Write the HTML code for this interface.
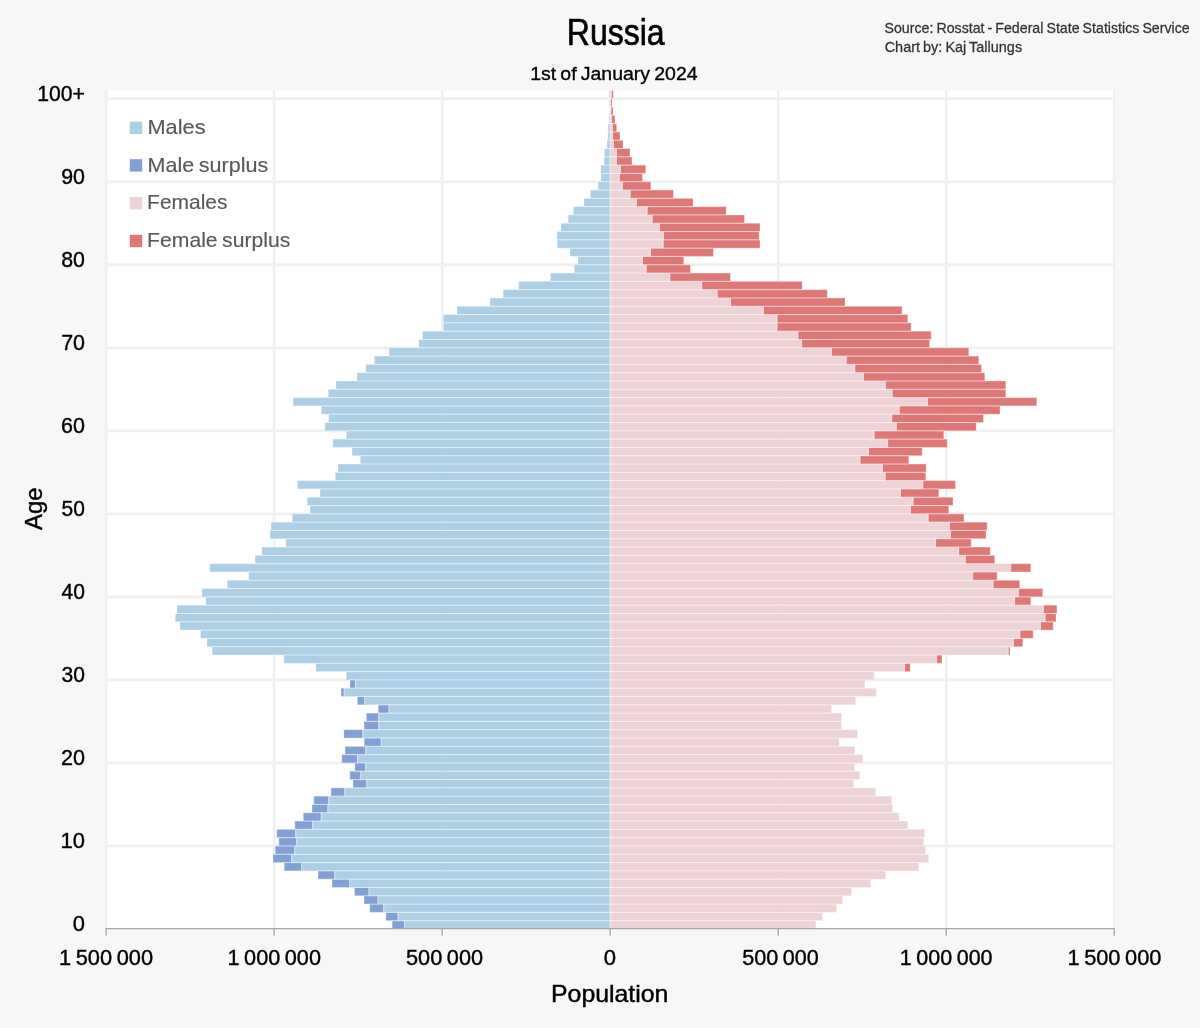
<!DOCTYPE html>
<html><head><meta charset="utf-8"><title>Russia population pyramid</title>
<style>html,body{margin:0;padding:0;background:#f7f7f7;}body{width:1200px;height:1028px;overflow:hidden;font-family:"Liberation Sans",sans-serif;}svg{display:block;will-change:transform;}text{font-family:"Liberation Sans",sans-serif;}</style>
</head><body>
<svg width="1200" height="1028" viewBox="0 0 1200 1028">
<rect x="0" y="0" width="1200" height="1028" fill="#f7f7f7"/>
<rect x="104.9" y="90.4" width="1010.6" height="838.6" fill="#ffffff"/>
<g stroke="#f0f0f0" stroke-width="2.8" fill="none">
<line x1="106.11" y1="90.4" x2="106.11" y2="929.0"/>
<line x1="274.14" y1="90.4" x2="274.14" y2="929.0"/>
<line x1="442.17" y1="90.4" x2="442.17" y2="929.0"/>
<line x1="610.20" y1="90.4" x2="610.20" y2="929.0"/>
<line x1="778.23" y1="90.4" x2="778.23" y2="929.0"/>
<line x1="946.26" y1="90.4" x2="946.26" y2="929.0"/>
<line x1="1114.29" y1="90.4" x2="1114.29" y2="929.0"/>
<line x1="104.9" y1="845.97" x2="1115.5" y2="845.97"/>
<line x1="104.9" y1="762.94" x2="1115.5" y2="762.94"/>
<line x1="104.9" y1="679.91" x2="1115.5" y2="679.91"/>
<line x1="104.9" y1="596.88" x2="1115.5" y2="596.88"/>
<line x1="104.9" y1="513.85" x2="1115.5" y2="513.85"/>
<line x1="104.9" y1="430.82" x2="1115.5" y2="430.82"/>
<line x1="104.9" y1="347.79" x2="1115.5" y2="347.79"/>
<line x1="104.9" y1="264.76" x2="1115.5" y2="264.76"/>
<line x1="104.9" y1="181.73" x2="1115.5" y2="181.73"/>
<line x1="104.9" y1="98.70" x2="1115.5" y2="98.70"/>
</g>
<g>
<rect x="404.6" y="920.70" width="205.6" height="8.30" fill="#accfe6"/>
<rect x="392.2" y="920.70" width="12.4" height="8.30" fill="#82a0d4"/>
<rect x="610.2" y="920.70" width="205.6" height="8.30" fill="#edd3d5"/>
<rect x="397.9" y="912.39" width="212.3" height="8.30" fill="#accfe6"/>
<rect x="385.8" y="912.39" width="12.1" height="8.30" fill="#82a0d4"/>
<rect x="610.2" y="912.39" width="212.3" height="8.30" fill="#edd3d5"/>
<rect x="383.7" y="904.09" width="226.5" height="8.30" fill="#accfe6"/>
<rect x="369.7" y="904.09" width="14.0" height="8.30" fill="#82a0d4"/>
<rect x="610.2" y="904.09" width="226.5" height="8.30" fill="#edd3d5"/>
<rect x="377.9" y="895.79" width="232.3" height="8.30" fill="#accfe6"/>
<rect x="364.0" y="895.79" width="13.9" height="8.30" fill="#82a0d4"/>
<rect x="610.2" y="895.79" width="232.3" height="8.30" fill="#edd3d5"/>
<rect x="368.9" y="887.49" width="241.3" height="8.30" fill="#accfe6"/>
<rect x="354.5" y="887.49" width="14.4" height="8.30" fill="#82a0d4"/>
<rect x="610.2" y="887.49" width="241.3" height="8.30" fill="#edd3d5"/>
<rect x="349.7" y="879.18" width="260.5" height="8.30" fill="#accfe6"/>
<rect x="332.0" y="879.18" width="17.7" height="8.30" fill="#82a0d4"/>
<rect x="610.2" y="879.18" width="260.5" height="8.30" fill="#edd3d5"/>
<rect x="334.7" y="870.88" width="275.5" height="8.30" fill="#accfe6"/>
<rect x="318.0" y="870.88" width="16.7" height="8.30" fill="#82a0d4"/>
<rect x="610.2" y="870.88" width="275.5" height="8.30" fill="#edd3d5"/>
<rect x="301.7" y="862.58" width="308.5" height="8.30" fill="#accfe6"/>
<rect x="284.2" y="862.58" width="17.5" height="8.30" fill="#82a0d4"/>
<rect x="610.2" y="862.58" width="308.5" height="8.30" fill="#edd3d5"/>
<rect x="291.7" y="854.27" width="318.5" height="8.30" fill="#accfe6"/>
<rect x="273.0" y="854.27" width="18.7" height="8.30" fill="#82a0d4"/>
<rect x="610.2" y="854.27" width="318.5" height="8.30" fill="#edd3d5"/>
<rect x="294.7" y="845.97" width="315.5" height="8.30" fill="#accfe6"/>
<rect x="275.2" y="845.97" width="19.5" height="8.30" fill="#82a0d4"/>
<rect x="610.2" y="845.97" width="315.5" height="8.30" fill="#edd3d5"/>
<rect x="296.7" y="837.67" width="313.5" height="8.30" fill="#accfe6"/>
<rect x="278.8" y="837.67" width="17.9" height="8.30" fill="#82a0d4"/>
<rect x="610.2" y="837.67" width="313.5" height="8.30" fill="#edd3d5"/>
<rect x="295.7" y="829.36" width="314.5" height="8.30" fill="#accfe6"/>
<rect x="276.7" y="829.36" width="19.0" height="8.30" fill="#82a0d4"/>
<rect x="610.2" y="829.36" width="314.5" height="8.30" fill="#edd3d5"/>
<rect x="312.6" y="821.06" width="297.6" height="8.30" fill="#accfe6"/>
<rect x="294.8" y="821.06" width="17.8" height="8.30" fill="#82a0d4"/>
<rect x="610.2" y="821.06" width="297.6" height="8.30" fill="#edd3d5"/>
<rect x="321.2" y="812.76" width="289.0" height="8.30" fill="#accfe6"/>
<rect x="303.3" y="812.76" width="17.9" height="8.30" fill="#82a0d4"/>
<rect x="610.2" y="812.76" width="289.0" height="8.30" fill="#edd3d5"/>
<rect x="327.8" y="804.45" width="282.4" height="8.30" fill="#accfe6"/>
<rect x="312.0" y="804.45" width="15.8" height="8.30" fill="#82a0d4"/>
<rect x="610.2" y="804.45" width="282.4" height="8.30" fill="#edd3d5"/>
<rect x="328.7" y="796.15" width="281.5" height="8.30" fill="#accfe6"/>
<rect x="313.8" y="796.15" width="14.9" height="8.30" fill="#82a0d4"/>
<rect x="610.2" y="796.15" width="281.5" height="8.30" fill="#edd3d5"/>
<rect x="344.7" y="787.85" width="265.5" height="8.30" fill="#accfe6"/>
<rect x="331.0" y="787.85" width="13.7" height="8.30" fill="#82a0d4"/>
<rect x="610.2" y="787.85" width="265.5" height="8.30" fill="#edd3d5"/>
<rect x="366.7" y="779.55" width="243.5" height="8.30" fill="#accfe6"/>
<rect x="353.0" y="779.55" width="13.7" height="8.30" fill="#82a0d4"/>
<rect x="610.2" y="779.55" width="243.5" height="8.30" fill="#edd3d5"/>
<rect x="360.7" y="771.24" width="249.5" height="8.30" fill="#accfe6"/>
<rect x="349.8" y="771.24" width="10.9" height="8.30" fill="#82a0d4"/>
<rect x="610.2" y="771.24" width="249.5" height="8.30" fill="#edd3d5"/>
<rect x="365.7" y="762.94" width="244.5" height="8.30" fill="#accfe6"/>
<rect x="354.8" y="762.94" width="10.9" height="8.30" fill="#82a0d4"/>
<rect x="610.2" y="762.94" width="244.5" height="8.30" fill="#edd3d5"/>
<rect x="357.6" y="754.64" width="252.6" height="8.30" fill="#accfe6"/>
<rect x="341.8" y="754.64" width="15.8" height="8.30" fill="#82a0d4"/>
<rect x="610.2" y="754.64" width="252.6" height="8.30" fill="#edd3d5"/>
<rect x="365.7" y="746.33" width="244.5" height="8.30" fill="#accfe6"/>
<rect x="345.0" y="746.33" width="20.7" height="8.30" fill="#82a0d4"/>
<rect x="610.2" y="746.33" width="244.5" height="8.30" fill="#edd3d5"/>
<rect x="381.2" y="738.03" width="229.0" height="8.30" fill="#accfe6"/>
<rect x="364.2" y="738.03" width="17.0" height="8.30" fill="#82a0d4"/>
<rect x="610.2" y="738.03" width="229.0" height="8.30" fill="#edd3d5"/>
<rect x="362.7" y="729.73" width="247.5" height="8.30" fill="#accfe6"/>
<rect x="343.8" y="729.73" width="18.9" height="8.30" fill="#82a0d4"/>
<rect x="610.2" y="729.73" width="247.5" height="8.30" fill="#edd3d5"/>
<rect x="378.7" y="721.42" width="231.5" height="8.30" fill="#accfe6"/>
<rect x="364.0" y="721.42" width="14.7" height="8.30" fill="#82a0d4"/>
<rect x="610.2" y="721.42" width="231.5" height="8.30" fill="#edd3d5"/>
<rect x="378.7" y="713.12" width="231.5" height="8.30" fill="#accfe6"/>
<rect x="366.3" y="713.12" width="12.4" height="8.30" fill="#82a0d4"/>
<rect x="610.2" y="713.12" width="231.5" height="8.30" fill="#edd3d5"/>
<rect x="388.9" y="704.82" width="221.3" height="8.30" fill="#accfe6"/>
<rect x="378.2" y="704.82" width="10.7" height="8.30" fill="#82a0d4"/>
<rect x="610.2" y="704.82" width="221.3" height="8.30" fill="#edd3d5"/>
<rect x="364.7" y="696.52" width="245.5" height="8.30" fill="#accfe6"/>
<rect x="357.3" y="696.52" width="7.4" height="8.30" fill="#82a0d4"/>
<rect x="610.2" y="696.52" width="245.5" height="8.30" fill="#edd3d5"/>
<rect x="344.1" y="688.21" width="266.1" height="8.30" fill="#accfe6"/>
<rect x="341.0" y="688.21" width="3.1" height="8.30" fill="#82a0d4"/>
<rect x="610.2" y="688.21" width="266.1" height="8.30" fill="#edd3d5"/>
<rect x="355.4" y="679.91" width="254.8" height="8.30" fill="#accfe6"/>
<rect x="350.0" y="679.91" width="5.4" height="8.30" fill="#82a0d4"/>
<rect x="610.2" y="679.91" width="254.8" height="8.30" fill="#edd3d5"/>
<rect x="346.2" y="671.61" width="264.0" height="8.30" fill="#accfe6"/>
<rect x="610.2" y="671.61" width="264.0" height="8.30" fill="#edd3d5"/>
<rect x="315.8" y="663.30" width="294.4" height="8.30" fill="#accfe6"/>
<rect x="610.2" y="663.30" width="294.4" height="8.30" fill="#edd3d5"/>
<rect x="904.6" y="663.30" width="5.6" height="8.30" fill="#de7877"/>
<rect x="283.8" y="655.00" width="326.4" height="8.30" fill="#accfe6"/>
<rect x="610.2" y="655.00" width="326.4" height="8.30" fill="#edd3d5"/>
<rect x="936.6" y="655.00" width="5.4" height="8.30" fill="#de7877"/>
<rect x="212.2" y="646.70" width="398.0" height="8.30" fill="#accfe6"/>
<rect x="610.2" y="646.70" width="398.0" height="8.30" fill="#edd3d5"/>
<rect x="1008.2" y="646.70" width="1.8" height="8.30" fill="#de7877"/>
<rect x="207.0" y="638.39" width="403.2" height="8.30" fill="#accfe6"/>
<rect x="610.2" y="638.39" width="403.2" height="8.30" fill="#edd3d5"/>
<rect x="1013.4" y="638.39" width="9.4" height="8.30" fill="#de7877"/>
<rect x="200.5" y="630.09" width="409.7" height="8.30" fill="#accfe6"/>
<rect x="610.2" y="630.09" width="409.7" height="8.30" fill="#edd3d5"/>
<rect x="1019.9" y="630.09" width="13.3" height="8.30" fill="#de7877"/>
<rect x="180.0" y="621.79" width="430.2" height="8.30" fill="#accfe6"/>
<rect x="610.2" y="621.79" width="430.2" height="8.30" fill="#edd3d5"/>
<rect x="1040.4" y="621.79" width="12.8" height="8.30" fill="#de7877"/>
<rect x="175.3" y="613.49" width="434.9" height="8.30" fill="#accfe6"/>
<rect x="610.2" y="613.49" width="434.9" height="8.30" fill="#edd3d5"/>
<rect x="1045.1" y="613.49" width="10.9" height="8.30" fill="#de7877"/>
<rect x="177.0" y="605.18" width="433.2" height="8.30" fill="#accfe6"/>
<rect x="610.2" y="605.18" width="433.2" height="8.30" fill="#edd3d5"/>
<rect x="1043.4" y="605.18" width="13.6" height="8.30" fill="#de7877"/>
<rect x="205.8" y="596.88" width="404.4" height="8.30" fill="#accfe6"/>
<rect x="610.2" y="596.88" width="404.4" height="8.30" fill="#edd3d5"/>
<rect x="1014.6" y="596.88" width="16.2" height="8.30" fill="#de7877"/>
<rect x="202.0" y="588.58" width="408.2" height="8.30" fill="#accfe6"/>
<rect x="610.2" y="588.58" width="408.2" height="8.30" fill="#edd3d5"/>
<rect x="1018.4" y="588.58" width="24.3" height="8.30" fill="#de7877"/>
<rect x="227.2" y="580.27" width="383.0" height="8.30" fill="#accfe6"/>
<rect x="610.2" y="580.27" width="383.0" height="8.30" fill="#edd3d5"/>
<rect x="993.2" y="580.27" width="26.5" height="8.30" fill="#de7877"/>
<rect x="248.7" y="571.97" width="361.5" height="8.30" fill="#accfe6"/>
<rect x="610.2" y="571.97" width="362.4" height="8.30" fill="#edd3d5"/>
<rect x="972.6" y="571.97" width="24.6" height="8.30" fill="#de7877"/>
<rect x="209.8" y="563.67" width="400.4" height="8.30" fill="#accfe6"/>
<rect x="610.2" y="563.67" width="400.4" height="8.30" fill="#edd3d5"/>
<rect x="1010.6" y="563.67" width="20.2" height="8.30" fill="#de7877"/>
<rect x="255.0" y="555.37" width="355.2" height="8.30" fill="#accfe6"/>
<rect x="610.2" y="555.37" width="355.2" height="8.30" fill="#edd3d5"/>
<rect x="965.4" y="555.37" width="29.3" height="8.30" fill="#de7877"/>
<rect x="261.8" y="547.06" width="348.4" height="8.30" fill="#accfe6"/>
<rect x="610.2" y="547.06" width="348.4" height="8.30" fill="#edd3d5"/>
<rect x="958.6" y="547.06" width="31.6" height="8.30" fill="#de7877"/>
<rect x="285.7" y="538.76" width="324.5" height="8.30" fill="#accfe6"/>
<rect x="610.2" y="538.76" width="325.4" height="8.30" fill="#edd3d5"/>
<rect x="935.6" y="538.76" width="35.6" height="8.30" fill="#de7877"/>
<rect x="270.0" y="530.46" width="340.2" height="8.30" fill="#accfe6"/>
<rect x="610.2" y="530.46" width="340.2" height="8.30" fill="#edd3d5"/>
<rect x="950.4" y="530.46" width="35.6" height="8.30" fill="#de7877"/>
<rect x="271.0" y="522.15" width="339.2" height="8.30" fill="#accfe6"/>
<rect x="610.2" y="522.15" width="339.2" height="8.30" fill="#edd3d5"/>
<rect x="949.4" y="522.15" width="37.8" height="8.30" fill="#de7877"/>
<rect x="292.2" y="513.85" width="318.0" height="8.30" fill="#accfe6"/>
<rect x="610.2" y="513.85" width="318.0" height="8.30" fill="#edd3d5"/>
<rect x="928.2" y="513.85" width="35.8" height="8.30" fill="#de7877"/>
<rect x="310.0" y="505.55" width="300.2" height="8.30" fill="#accfe6"/>
<rect x="610.2" y="505.55" width="300.2" height="8.30" fill="#edd3d5"/>
<rect x="910.4" y="505.55" width="38.4" height="8.30" fill="#de7877"/>
<rect x="307.2" y="497.24" width="303.0" height="8.30" fill="#accfe6"/>
<rect x="610.2" y="497.24" width="303.0" height="8.30" fill="#edd3d5"/>
<rect x="913.2" y="497.24" width="39.8" height="8.30" fill="#de7877"/>
<rect x="320.0" y="488.94" width="290.2" height="8.30" fill="#accfe6"/>
<rect x="610.2" y="488.94" width="290.2" height="8.30" fill="#edd3d5"/>
<rect x="900.4" y="488.94" width="38.4" height="8.30" fill="#de7877"/>
<rect x="297.5" y="480.64" width="312.7" height="8.30" fill="#accfe6"/>
<rect x="610.2" y="480.64" width="312.7" height="8.30" fill="#edd3d5"/>
<rect x="922.9" y="480.64" width="32.6" height="8.30" fill="#de7877"/>
<rect x="335.2" y="472.33" width="275.0" height="8.30" fill="#accfe6"/>
<rect x="610.2" y="472.33" width="275.0" height="8.30" fill="#edd3d5"/>
<rect x="885.2" y="472.33" width="40.6" height="8.30" fill="#de7877"/>
<rect x="338.0" y="464.03" width="272.2" height="8.30" fill="#accfe6"/>
<rect x="610.2" y="464.03" width="272.2" height="8.30" fill="#edd3d5"/>
<rect x="882.4" y="464.03" width="43.8" height="8.30" fill="#de7877"/>
<rect x="360.3" y="455.73" width="249.9" height="8.30" fill="#accfe6"/>
<rect x="610.2" y="455.73" width="249.9" height="8.30" fill="#edd3d5"/>
<rect x="860.1" y="455.73" width="48.7" height="8.30" fill="#de7877"/>
<rect x="352.0" y="447.43" width="258.2" height="8.30" fill="#accfe6"/>
<rect x="610.2" y="447.43" width="258.2" height="8.30" fill="#edd3d5"/>
<rect x="868.4" y="447.43" width="53.8" height="8.30" fill="#de7877"/>
<rect x="332.8" y="439.12" width="277.4" height="8.30" fill="#accfe6"/>
<rect x="610.2" y="439.12" width="277.4" height="8.30" fill="#edd3d5"/>
<rect x="887.6" y="439.12" width="59.6" height="8.30" fill="#de7877"/>
<rect x="346.3" y="430.82" width="263.9" height="8.30" fill="#accfe6"/>
<rect x="610.2" y="430.82" width="263.9" height="8.30" fill="#edd3d5"/>
<rect x="874.1" y="430.82" width="69.7" height="8.30" fill="#de7877"/>
<rect x="324.8" y="422.52" width="285.4" height="8.30" fill="#accfe6"/>
<rect x="610.2" y="422.52" width="286.2" height="8.30" fill="#edd3d5"/>
<rect x="896.4" y="422.52" width="79.8" height="8.30" fill="#de7877"/>
<rect x="328.7" y="414.21" width="281.5" height="8.30" fill="#accfe6"/>
<rect x="610.2" y="414.21" width="281.5" height="8.30" fill="#edd3d5"/>
<rect x="891.7" y="414.21" width="91.8" height="8.30" fill="#de7877"/>
<rect x="321.2" y="405.91" width="289.0" height="8.30" fill="#accfe6"/>
<rect x="610.2" y="405.91" width="289.0" height="8.30" fill="#edd3d5"/>
<rect x="899.2" y="405.91" width="100.8" height="8.30" fill="#de7877"/>
<rect x="293.0" y="397.61" width="317.2" height="8.30" fill="#accfe6"/>
<rect x="610.2" y="397.61" width="317.2" height="8.30" fill="#edd3d5"/>
<rect x="927.4" y="397.61" width="109.4" height="8.30" fill="#de7877"/>
<rect x="328.2" y="389.30" width="282.0" height="8.30" fill="#accfe6"/>
<rect x="610.2" y="389.30" width="282.0" height="8.30" fill="#edd3d5"/>
<rect x="892.2" y="389.30" width="113.6" height="8.30" fill="#de7877"/>
<rect x="336.0" y="381.00" width="274.2" height="8.30" fill="#accfe6"/>
<rect x="610.2" y="381.00" width="275.2" height="8.30" fill="#edd3d5"/>
<rect x="885.4" y="381.00" width="120.4" height="8.30" fill="#de7877"/>
<rect x="357.0" y="372.70" width="253.2" height="8.30" fill="#accfe6"/>
<rect x="610.2" y="372.70" width="253.2" height="8.30" fill="#edd3d5"/>
<rect x="863.4" y="372.70" width="121.4" height="8.30" fill="#de7877"/>
<rect x="365.7" y="364.40" width="244.5" height="8.30" fill="#accfe6"/>
<rect x="610.2" y="364.40" width="244.5" height="8.30" fill="#edd3d5"/>
<rect x="854.7" y="364.40" width="126.8" height="8.30" fill="#de7877"/>
<rect x="374.2" y="356.09" width="236.0" height="8.30" fill="#accfe6"/>
<rect x="610.2" y="356.09" width="236.0" height="8.30" fill="#edd3d5"/>
<rect x="846.2" y="356.09" width="132.6" height="8.30" fill="#de7877"/>
<rect x="389.0" y="347.79" width="221.2" height="8.30" fill="#accfe6"/>
<rect x="610.2" y="347.79" width="221.2" height="8.30" fill="#edd3d5"/>
<rect x="831.4" y="347.79" width="137.4" height="8.30" fill="#de7877"/>
<rect x="418.8" y="339.49" width="191.4" height="8.30" fill="#accfe6"/>
<rect x="610.2" y="339.49" width="191.4" height="8.30" fill="#edd3d5"/>
<rect x="801.6" y="339.49" width="128.0" height="8.30" fill="#de7877"/>
<rect x="422.5" y="331.18" width="187.7" height="8.30" fill="#accfe6"/>
<rect x="610.2" y="331.18" width="187.7" height="8.30" fill="#edd3d5"/>
<rect x="797.9" y="331.18" width="133.3" height="8.30" fill="#de7877"/>
<rect x="443.3" y="322.88" width="166.9" height="8.30" fill="#accfe6"/>
<rect x="610.2" y="322.88" width="166.9" height="8.30" fill="#edd3d5"/>
<rect x="777.1" y="322.88" width="134.0" height="8.30" fill="#de7877"/>
<rect x="443.3" y="314.58" width="166.9" height="8.30" fill="#accfe6"/>
<rect x="610.2" y="314.58" width="166.9" height="8.30" fill="#edd3d5"/>
<rect x="777.1" y="314.58" width="130.7" height="8.30" fill="#de7877"/>
<rect x="457.0" y="306.27" width="153.2" height="8.30" fill="#accfe6"/>
<rect x="610.2" y="306.27" width="153.2" height="8.30" fill="#edd3d5"/>
<rect x="763.4" y="306.27" width="138.6" height="8.30" fill="#de7877"/>
<rect x="490.0" y="297.97" width="120.2" height="8.30" fill="#accfe6"/>
<rect x="610.2" y="297.97" width="120.2" height="8.30" fill="#edd3d5"/>
<rect x="730.4" y="297.97" width="114.6" height="8.30" fill="#de7877"/>
<rect x="503.2" y="289.67" width="107.0" height="8.30" fill="#accfe6"/>
<rect x="610.2" y="289.67" width="107.0" height="8.30" fill="#edd3d5"/>
<rect x="717.2" y="289.67" width="110.1" height="8.30" fill="#de7877"/>
<rect x="518.7" y="281.37" width="91.5" height="8.30" fill="#accfe6"/>
<rect x="610.2" y="281.37" width="91.5" height="8.30" fill="#edd3d5"/>
<rect x="701.7" y="281.37" width="100.5" height="8.30" fill="#de7877"/>
<rect x="550.5" y="273.06" width="59.7" height="8.30" fill="#accfe6"/>
<rect x="610.2" y="273.06" width="59.7" height="8.30" fill="#edd3d5"/>
<rect x="669.9" y="273.06" width="60.6" height="8.30" fill="#de7877"/>
<rect x="574.2" y="264.76" width="36.0" height="8.30" fill="#accfe6"/>
<rect x="610.2" y="264.76" width="36.0" height="8.30" fill="#edd3d5"/>
<rect x="646.2" y="264.76" width="44.3" height="8.30" fill="#de7877"/>
<rect x="578.0" y="256.46" width="32.2" height="8.30" fill="#accfe6"/>
<rect x="610.2" y="256.46" width="32.2" height="8.30" fill="#edd3d5"/>
<rect x="642.4" y="256.46" width="41.4" height="8.30" fill="#de7877"/>
<rect x="570.0" y="248.15" width="40.2" height="8.30" fill="#accfe6"/>
<rect x="610.2" y="248.15" width="40.2" height="8.30" fill="#edd3d5"/>
<rect x="650.4" y="248.15" width="63.1" height="8.30" fill="#de7877"/>
<rect x="557.2" y="239.85" width="53.0" height="8.30" fill="#accfe6"/>
<rect x="610.2" y="239.85" width="53.0" height="8.30" fill="#edd3d5"/>
<rect x="663.2" y="239.85" width="96.8" height="8.30" fill="#de7877"/>
<rect x="557.0" y="231.55" width="53.2" height="8.30" fill="#accfe6"/>
<rect x="610.2" y="231.55" width="53.2" height="8.30" fill="#edd3d5"/>
<rect x="663.4" y="231.55" width="95.8" height="8.30" fill="#de7877"/>
<rect x="561.0" y="223.24" width="49.2" height="8.30" fill="#accfe6"/>
<rect x="610.2" y="223.24" width="49.2" height="8.30" fill="#edd3d5"/>
<rect x="659.4" y="223.24" width="100.6" height="8.30" fill="#de7877"/>
<rect x="568.2" y="214.94" width="42.0" height="8.30" fill="#accfe6"/>
<rect x="610.2" y="214.94" width="42.0" height="8.30" fill="#edd3d5"/>
<rect x="652.2" y="214.94" width="92.3" height="8.30" fill="#de7877"/>
<rect x="573.3" y="206.64" width="36.9" height="8.30" fill="#accfe6"/>
<rect x="610.2" y="206.64" width="36.9" height="8.30" fill="#edd3d5"/>
<rect x="647.1" y="206.64" width="79.1" height="8.30" fill="#de7877"/>
<rect x="584.0" y="198.34" width="26.2" height="8.30" fill="#accfe6"/>
<rect x="610.2" y="198.34" width="26.2" height="8.30" fill="#edd3d5"/>
<rect x="636.4" y="198.34" width="56.6" height="8.30" fill="#de7877"/>
<rect x="590.3" y="190.03" width="19.9" height="8.30" fill="#accfe6"/>
<rect x="610.2" y="190.03" width="19.9" height="8.30" fill="#edd3d5"/>
<rect x="630.1" y="190.03" width="43.4" height="8.30" fill="#de7877"/>
<rect x="598.0" y="181.73" width="12.2" height="8.30" fill="#accfe6"/>
<rect x="610.2" y="181.73" width="12.2" height="8.30" fill="#edd3d5"/>
<rect x="622.4" y="181.73" width="28.5" height="8.30" fill="#de7877"/>
<rect x="601.0" y="173.43" width="9.2" height="8.30" fill="#accfe6"/>
<rect x="610.2" y="173.43" width="9.2" height="8.30" fill="#edd3d5"/>
<rect x="619.4" y="173.43" width="23.1" height="8.30" fill="#de7877"/>
<rect x="600.8" y="165.12" width="9.4" height="8.30" fill="#accfe6"/>
<rect x="610.2" y="165.12" width="10.2" height="8.30" fill="#edd3d5"/>
<rect x="620.4" y="165.12" width="25.3" height="8.30" fill="#de7877"/>
<rect x="604.0" y="156.82" width="6.2" height="8.30" fill="#accfe6"/>
<rect x="610.2" y="156.82" width="6.2" height="8.30" fill="#edd3d5"/>
<rect x="616.4" y="156.82" width="15.6" height="8.30" fill="#de7877"/>
<rect x="604.5" y="148.52" width="5.7" height="8.30" fill="#accfe6"/>
<rect x="610.2" y="148.52" width="6.3" height="8.30" fill="#edd3d5"/>
<rect x="616.5" y="148.52" width="13.5" height="8.30" fill="#de7877"/>
<rect x="607.0" y="140.21" width="3.2" height="8.30" fill="#accfe6"/>
<rect x="610.2" y="140.21" width="3.2" height="8.30" fill="#edd3d5"/>
<rect x="613.4" y="140.21" width="9.6" height="8.30" fill="#de7877"/>
<rect x="607.8" y="131.91" width="2.4" height="8.30" fill="#accfe6"/>
<rect x="610.2" y="131.91" width="2.4" height="8.30" fill="#edd3d5"/>
<rect x="612.6" y="131.91" width="7.4" height="8.30" fill="#de7877"/>
<rect x="608.0" y="123.61" width="2.2" height="8.30" fill="#accfe6"/>
<rect x="610.2" y="123.61" width="2.2" height="8.30" fill="#edd3d5"/>
<rect x="612.4" y="123.61" width="4.3" height="8.30" fill="#de7877"/>
<rect x="609.0" y="115.31" width="1.2" height="8.30" fill="#accfe6"/>
<rect x="610.2" y="115.31" width="1.2" height="8.30" fill="#edd3d5"/>
<rect x="611.4" y="115.31" width="3.5" height="8.30" fill="#de7877"/>
<rect x="609.6" y="107.00" width="0.6" height="8.30" fill="#accfe6"/>
<rect x="610.2" y="107.00" width="0.6" height="8.30" fill="#edd3d5"/>
<rect x="610.8" y="107.00" width="2.2" height="8.30" fill="#de7877"/>
<rect x="609.9" y="98.70" width="0.3" height="8.30" fill="#accfe6"/>
<rect x="610.2" y="98.70" width="0.3" height="8.30" fill="#edd3d5"/>
<rect x="610.5" y="98.70" width="1.5" height="8.30" fill="#de7877"/>
<rect x="609.0" y="90.40" width="1.2" height="8.30" fill="#accfe6"/>
<rect x="610.2" y="90.40" width="1.2" height="8.30" fill="#edd3d5"/>
<rect x="611.4" y="90.40" width="1.9" height="8.30" fill="#de7877"/>
</g>
<g fill="none" stroke="#ffffff" stroke-width="1.1" stroke-opacity="0.3">
<rect x="404.6" y="920.70" width="205.6" height="8.30"/>
<rect x="392.2" y="920.70" width="12.4" height="8.30"/>
<rect x="610.2" y="920.70" width="205.6" height="8.30"/>
<rect x="397.9" y="912.39" width="212.3" height="8.30"/>
<rect x="385.8" y="912.39" width="12.1" height="8.30"/>
<rect x="610.2" y="912.39" width="212.3" height="8.30"/>
<rect x="383.7" y="904.09" width="226.5" height="8.30"/>
<rect x="369.7" y="904.09" width="14.0" height="8.30"/>
<rect x="610.2" y="904.09" width="226.5" height="8.30"/>
<rect x="377.9" y="895.79" width="232.3" height="8.30"/>
<rect x="364.0" y="895.79" width="13.9" height="8.30"/>
<rect x="610.2" y="895.79" width="232.3" height="8.30"/>
<rect x="368.9" y="887.49" width="241.3" height="8.30"/>
<rect x="354.5" y="887.49" width="14.4" height="8.30"/>
<rect x="610.2" y="887.49" width="241.3" height="8.30"/>
<rect x="349.7" y="879.18" width="260.5" height="8.30"/>
<rect x="332.0" y="879.18" width="17.7" height="8.30"/>
<rect x="610.2" y="879.18" width="260.5" height="8.30"/>
<rect x="334.7" y="870.88" width="275.5" height="8.30"/>
<rect x="318.0" y="870.88" width="16.7" height="8.30"/>
<rect x="610.2" y="870.88" width="275.5" height="8.30"/>
<rect x="301.7" y="862.58" width="308.5" height="8.30"/>
<rect x="284.2" y="862.58" width="17.5" height="8.30"/>
<rect x="610.2" y="862.58" width="308.5" height="8.30"/>
<rect x="291.7" y="854.27" width="318.5" height="8.30"/>
<rect x="273.0" y="854.27" width="18.7" height="8.30"/>
<rect x="610.2" y="854.27" width="318.5" height="8.30"/>
<rect x="294.7" y="845.97" width="315.5" height="8.30"/>
<rect x="275.2" y="845.97" width="19.5" height="8.30"/>
<rect x="610.2" y="845.97" width="315.5" height="8.30"/>
<rect x="296.7" y="837.67" width="313.5" height="8.30"/>
<rect x="278.8" y="837.67" width="17.9" height="8.30"/>
<rect x="610.2" y="837.67" width="313.5" height="8.30"/>
<rect x="295.7" y="829.36" width="314.5" height="8.30"/>
<rect x="276.7" y="829.36" width="19.0" height="8.30"/>
<rect x="610.2" y="829.36" width="314.5" height="8.30"/>
<rect x="312.6" y="821.06" width="297.6" height="8.30"/>
<rect x="294.8" y="821.06" width="17.8" height="8.30"/>
<rect x="610.2" y="821.06" width="297.6" height="8.30"/>
<rect x="321.2" y="812.76" width="289.0" height="8.30"/>
<rect x="303.3" y="812.76" width="17.9" height="8.30"/>
<rect x="610.2" y="812.76" width="289.0" height="8.30"/>
<rect x="327.8" y="804.45" width="282.4" height="8.30"/>
<rect x="312.0" y="804.45" width="15.8" height="8.30"/>
<rect x="610.2" y="804.45" width="282.4" height="8.30"/>
<rect x="328.7" y="796.15" width="281.5" height="8.30"/>
<rect x="313.8" y="796.15" width="14.9" height="8.30"/>
<rect x="610.2" y="796.15" width="281.5" height="8.30"/>
<rect x="344.7" y="787.85" width="265.5" height="8.30"/>
<rect x="331.0" y="787.85" width="13.7" height="8.30"/>
<rect x="610.2" y="787.85" width="265.5" height="8.30"/>
<rect x="366.7" y="779.55" width="243.5" height="8.30"/>
<rect x="353.0" y="779.55" width="13.7" height="8.30"/>
<rect x="610.2" y="779.55" width="243.5" height="8.30"/>
<rect x="360.7" y="771.24" width="249.5" height="8.30"/>
<rect x="349.8" y="771.24" width="10.9" height="8.30"/>
<rect x="610.2" y="771.24" width="249.5" height="8.30"/>
<rect x="365.7" y="762.94" width="244.5" height="8.30"/>
<rect x="354.8" y="762.94" width="10.9" height="8.30"/>
<rect x="610.2" y="762.94" width="244.5" height="8.30"/>
<rect x="357.6" y="754.64" width="252.6" height="8.30"/>
<rect x="341.8" y="754.64" width="15.8" height="8.30"/>
<rect x="610.2" y="754.64" width="252.6" height="8.30"/>
<rect x="365.7" y="746.33" width="244.5" height="8.30"/>
<rect x="345.0" y="746.33" width="20.7" height="8.30"/>
<rect x="610.2" y="746.33" width="244.5" height="8.30"/>
<rect x="381.2" y="738.03" width="229.0" height="8.30"/>
<rect x="364.2" y="738.03" width="17.0" height="8.30"/>
<rect x="610.2" y="738.03" width="229.0" height="8.30"/>
<rect x="362.7" y="729.73" width="247.5" height="8.30"/>
<rect x="343.8" y="729.73" width="18.9" height="8.30"/>
<rect x="610.2" y="729.73" width="247.5" height="8.30"/>
<rect x="378.7" y="721.42" width="231.5" height="8.30"/>
<rect x="364.0" y="721.42" width="14.7" height="8.30"/>
<rect x="610.2" y="721.42" width="231.5" height="8.30"/>
<rect x="378.7" y="713.12" width="231.5" height="8.30"/>
<rect x="366.3" y="713.12" width="12.4" height="8.30"/>
<rect x="610.2" y="713.12" width="231.5" height="8.30"/>
<rect x="388.9" y="704.82" width="221.3" height="8.30"/>
<rect x="378.2" y="704.82" width="10.7" height="8.30"/>
<rect x="610.2" y="704.82" width="221.3" height="8.30"/>
<rect x="364.7" y="696.52" width="245.5" height="8.30"/>
<rect x="357.3" y="696.52" width="7.4" height="8.30"/>
<rect x="610.2" y="696.52" width="245.5" height="8.30"/>
<rect x="344.1" y="688.21" width="266.1" height="8.30"/>
<rect x="341.0" y="688.21" width="3.1" height="8.30"/>
<rect x="610.2" y="688.21" width="266.1" height="8.30"/>
<rect x="355.4" y="679.91" width="254.8" height="8.30"/>
<rect x="350.0" y="679.91" width="5.4" height="8.30"/>
<rect x="610.2" y="679.91" width="254.8" height="8.30"/>
<rect x="346.2" y="671.61" width="264.0" height="8.30"/>
<rect x="610.2" y="671.61" width="264.0" height="8.30"/>
<rect x="315.8" y="663.30" width="294.4" height="8.30"/>
<rect x="610.2" y="663.30" width="294.4" height="8.30"/>
<rect x="904.6" y="663.30" width="5.6" height="8.30"/>
<rect x="283.8" y="655.00" width="326.4" height="8.30"/>
<rect x="610.2" y="655.00" width="326.4" height="8.30"/>
<rect x="936.6" y="655.00" width="5.4" height="8.30"/>
<rect x="212.2" y="646.70" width="398.0" height="8.30"/>
<rect x="610.2" y="646.70" width="398.0" height="8.30"/>
<rect x="1008.2" y="646.70" width="1.8" height="8.30"/>
<rect x="207.0" y="638.39" width="403.2" height="8.30"/>
<rect x="610.2" y="638.39" width="403.2" height="8.30"/>
<rect x="1013.4" y="638.39" width="9.4" height="8.30"/>
<rect x="200.5" y="630.09" width="409.7" height="8.30"/>
<rect x="610.2" y="630.09" width="409.7" height="8.30"/>
<rect x="1019.9" y="630.09" width="13.3" height="8.30"/>
<rect x="180.0" y="621.79" width="430.2" height="8.30"/>
<rect x="610.2" y="621.79" width="430.2" height="8.30"/>
<rect x="1040.4" y="621.79" width="12.8" height="8.30"/>
<rect x="175.3" y="613.49" width="434.9" height="8.30"/>
<rect x="610.2" y="613.49" width="434.9" height="8.30"/>
<rect x="1045.1" y="613.49" width="10.9" height="8.30"/>
<rect x="177.0" y="605.18" width="433.2" height="8.30"/>
<rect x="610.2" y="605.18" width="433.2" height="8.30"/>
<rect x="1043.4" y="605.18" width="13.6" height="8.30"/>
<rect x="205.8" y="596.88" width="404.4" height="8.30"/>
<rect x="610.2" y="596.88" width="404.4" height="8.30"/>
<rect x="1014.6" y="596.88" width="16.2" height="8.30"/>
<rect x="202.0" y="588.58" width="408.2" height="8.30"/>
<rect x="610.2" y="588.58" width="408.2" height="8.30"/>
<rect x="1018.4" y="588.58" width="24.3" height="8.30"/>
<rect x="227.2" y="580.27" width="383.0" height="8.30"/>
<rect x="610.2" y="580.27" width="383.0" height="8.30"/>
<rect x="993.2" y="580.27" width="26.5" height="8.30"/>
<rect x="248.7" y="571.97" width="361.5" height="8.30"/>
<rect x="610.2" y="571.97" width="362.4" height="8.30"/>
<rect x="972.6" y="571.97" width="24.6" height="8.30"/>
<rect x="209.8" y="563.67" width="400.4" height="8.30"/>
<rect x="610.2" y="563.67" width="400.4" height="8.30"/>
<rect x="1010.6" y="563.67" width="20.2" height="8.30"/>
<rect x="255.0" y="555.37" width="355.2" height="8.30"/>
<rect x="610.2" y="555.37" width="355.2" height="8.30"/>
<rect x="965.4" y="555.37" width="29.3" height="8.30"/>
<rect x="261.8" y="547.06" width="348.4" height="8.30"/>
<rect x="610.2" y="547.06" width="348.4" height="8.30"/>
<rect x="958.6" y="547.06" width="31.6" height="8.30"/>
<rect x="285.7" y="538.76" width="324.5" height="8.30"/>
<rect x="610.2" y="538.76" width="325.4" height="8.30"/>
<rect x="935.6" y="538.76" width="35.6" height="8.30"/>
<rect x="270.0" y="530.46" width="340.2" height="8.30"/>
<rect x="610.2" y="530.46" width="340.2" height="8.30"/>
<rect x="950.4" y="530.46" width="35.6" height="8.30"/>
<rect x="271.0" y="522.15" width="339.2" height="8.30"/>
<rect x="610.2" y="522.15" width="339.2" height="8.30"/>
<rect x="949.4" y="522.15" width="37.8" height="8.30"/>
<rect x="292.2" y="513.85" width="318.0" height="8.30"/>
<rect x="610.2" y="513.85" width="318.0" height="8.30"/>
<rect x="928.2" y="513.85" width="35.8" height="8.30"/>
<rect x="310.0" y="505.55" width="300.2" height="8.30"/>
<rect x="610.2" y="505.55" width="300.2" height="8.30"/>
<rect x="910.4" y="505.55" width="38.4" height="8.30"/>
<rect x="307.2" y="497.24" width="303.0" height="8.30"/>
<rect x="610.2" y="497.24" width="303.0" height="8.30"/>
<rect x="913.2" y="497.24" width="39.8" height="8.30"/>
<rect x="320.0" y="488.94" width="290.2" height="8.30"/>
<rect x="610.2" y="488.94" width="290.2" height="8.30"/>
<rect x="900.4" y="488.94" width="38.4" height="8.30"/>
<rect x="297.5" y="480.64" width="312.7" height="8.30"/>
<rect x="610.2" y="480.64" width="312.7" height="8.30"/>
<rect x="922.9" y="480.64" width="32.6" height="8.30"/>
<rect x="335.2" y="472.33" width="275.0" height="8.30"/>
<rect x="610.2" y="472.33" width="275.0" height="8.30"/>
<rect x="885.2" y="472.33" width="40.6" height="8.30"/>
<rect x="338.0" y="464.03" width="272.2" height="8.30"/>
<rect x="610.2" y="464.03" width="272.2" height="8.30"/>
<rect x="882.4" y="464.03" width="43.8" height="8.30"/>
<rect x="360.3" y="455.73" width="249.9" height="8.30"/>
<rect x="610.2" y="455.73" width="249.9" height="8.30"/>
<rect x="860.1" y="455.73" width="48.7" height="8.30"/>
<rect x="352.0" y="447.43" width="258.2" height="8.30"/>
<rect x="610.2" y="447.43" width="258.2" height="8.30"/>
<rect x="868.4" y="447.43" width="53.8" height="8.30"/>
<rect x="332.8" y="439.12" width="277.4" height="8.30"/>
<rect x="610.2" y="439.12" width="277.4" height="8.30"/>
<rect x="887.6" y="439.12" width="59.6" height="8.30"/>
<rect x="346.3" y="430.82" width="263.9" height="8.30"/>
<rect x="610.2" y="430.82" width="263.9" height="8.30"/>
<rect x="874.1" y="430.82" width="69.7" height="8.30"/>
<rect x="324.8" y="422.52" width="285.4" height="8.30"/>
<rect x="610.2" y="422.52" width="286.2" height="8.30"/>
<rect x="896.4" y="422.52" width="79.8" height="8.30"/>
<rect x="328.7" y="414.21" width="281.5" height="8.30"/>
<rect x="610.2" y="414.21" width="281.5" height="8.30"/>
<rect x="891.7" y="414.21" width="91.8" height="8.30"/>
<rect x="321.2" y="405.91" width="289.0" height="8.30"/>
<rect x="610.2" y="405.91" width="289.0" height="8.30"/>
<rect x="899.2" y="405.91" width="100.8" height="8.30"/>
<rect x="293.0" y="397.61" width="317.2" height="8.30"/>
<rect x="610.2" y="397.61" width="317.2" height="8.30"/>
<rect x="927.4" y="397.61" width="109.4" height="8.30"/>
<rect x="328.2" y="389.30" width="282.0" height="8.30"/>
<rect x="610.2" y="389.30" width="282.0" height="8.30"/>
<rect x="892.2" y="389.30" width="113.6" height="8.30"/>
<rect x="336.0" y="381.00" width="274.2" height="8.30"/>
<rect x="610.2" y="381.00" width="275.2" height="8.30"/>
<rect x="885.4" y="381.00" width="120.4" height="8.30"/>
<rect x="357.0" y="372.70" width="253.2" height="8.30"/>
<rect x="610.2" y="372.70" width="253.2" height="8.30"/>
<rect x="863.4" y="372.70" width="121.4" height="8.30"/>
<rect x="365.7" y="364.40" width="244.5" height="8.30"/>
<rect x="610.2" y="364.40" width="244.5" height="8.30"/>
<rect x="854.7" y="364.40" width="126.8" height="8.30"/>
<rect x="374.2" y="356.09" width="236.0" height="8.30"/>
<rect x="610.2" y="356.09" width="236.0" height="8.30"/>
<rect x="846.2" y="356.09" width="132.6" height="8.30"/>
<rect x="389.0" y="347.79" width="221.2" height="8.30"/>
<rect x="610.2" y="347.79" width="221.2" height="8.30"/>
<rect x="831.4" y="347.79" width="137.4" height="8.30"/>
<rect x="418.8" y="339.49" width="191.4" height="8.30"/>
<rect x="610.2" y="339.49" width="191.4" height="8.30"/>
<rect x="801.6" y="339.49" width="128.0" height="8.30"/>
<rect x="422.5" y="331.18" width="187.7" height="8.30"/>
<rect x="610.2" y="331.18" width="187.7" height="8.30"/>
<rect x="797.9" y="331.18" width="133.3" height="8.30"/>
<rect x="443.3" y="322.88" width="166.9" height="8.30"/>
<rect x="610.2" y="322.88" width="166.9" height="8.30"/>
<rect x="777.1" y="322.88" width="134.0" height="8.30"/>
<rect x="443.3" y="314.58" width="166.9" height="8.30"/>
<rect x="610.2" y="314.58" width="166.9" height="8.30"/>
<rect x="777.1" y="314.58" width="130.7" height="8.30"/>
<rect x="457.0" y="306.27" width="153.2" height="8.30"/>
<rect x="610.2" y="306.27" width="153.2" height="8.30"/>
<rect x="763.4" y="306.27" width="138.6" height="8.30"/>
<rect x="490.0" y="297.97" width="120.2" height="8.30"/>
<rect x="610.2" y="297.97" width="120.2" height="8.30"/>
<rect x="730.4" y="297.97" width="114.6" height="8.30"/>
<rect x="503.2" y="289.67" width="107.0" height="8.30"/>
<rect x="610.2" y="289.67" width="107.0" height="8.30"/>
<rect x="717.2" y="289.67" width="110.1" height="8.30"/>
<rect x="518.7" y="281.37" width="91.5" height="8.30"/>
<rect x="610.2" y="281.37" width="91.5" height="8.30"/>
<rect x="701.7" y="281.37" width="100.5" height="8.30"/>
<rect x="550.5" y="273.06" width="59.7" height="8.30"/>
<rect x="610.2" y="273.06" width="59.7" height="8.30"/>
<rect x="669.9" y="273.06" width="60.6" height="8.30"/>
<rect x="574.2" y="264.76" width="36.0" height="8.30"/>
<rect x="610.2" y="264.76" width="36.0" height="8.30"/>
<rect x="646.2" y="264.76" width="44.3" height="8.30"/>
<rect x="578.0" y="256.46" width="32.2" height="8.30"/>
<rect x="610.2" y="256.46" width="32.2" height="8.30"/>
<rect x="642.4" y="256.46" width="41.4" height="8.30"/>
<rect x="570.0" y="248.15" width="40.2" height="8.30"/>
<rect x="610.2" y="248.15" width="40.2" height="8.30"/>
<rect x="650.4" y="248.15" width="63.1" height="8.30"/>
<rect x="557.2" y="239.85" width="53.0" height="8.30"/>
<rect x="610.2" y="239.85" width="53.0" height="8.30"/>
<rect x="663.2" y="239.85" width="96.8" height="8.30"/>
<rect x="557.0" y="231.55" width="53.2" height="8.30"/>
<rect x="610.2" y="231.55" width="53.2" height="8.30"/>
<rect x="663.4" y="231.55" width="95.8" height="8.30"/>
<rect x="561.0" y="223.24" width="49.2" height="8.30"/>
<rect x="610.2" y="223.24" width="49.2" height="8.30"/>
<rect x="659.4" y="223.24" width="100.6" height="8.30"/>
<rect x="568.2" y="214.94" width="42.0" height="8.30"/>
<rect x="610.2" y="214.94" width="42.0" height="8.30"/>
<rect x="652.2" y="214.94" width="92.3" height="8.30"/>
<rect x="573.3" y="206.64" width="36.9" height="8.30"/>
<rect x="610.2" y="206.64" width="36.9" height="8.30"/>
<rect x="647.1" y="206.64" width="79.1" height="8.30"/>
<rect x="584.0" y="198.34" width="26.2" height="8.30"/>
<rect x="610.2" y="198.34" width="26.2" height="8.30"/>
<rect x="636.4" y="198.34" width="56.6" height="8.30"/>
<rect x="590.3" y="190.03" width="19.9" height="8.30"/>
<rect x="610.2" y="190.03" width="19.9" height="8.30"/>
<rect x="630.1" y="190.03" width="43.4" height="8.30"/>
<rect x="598.0" y="181.73" width="12.2" height="8.30"/>
<rect x="610.2" y="181.73" width="12.2" height="8.30"/>
<rect x="622.4" y="181.73" width="28.5" height="8.30"/>
<rect x="601.0" y="173.43" width="9.2" height="8.30"/>
<rect x="610.2" y="173.43" width="9.2" height="8.30"/>
<rect x="619.4" y="173.43" width="23.1" height="8.30"/>
<rect x="600.8" y="165.12" width="9.4" height="8.30"/>
<rect x="610.2" y="165.12" width="10.2" height="8.30"/>
<rect x="620.4" y="165.12" width="25.3" height="8.30"/>
<rect x="604.0" y="156.82" width="6.2" height="8.30"/>
<rect x="610.2" y="156.82" width="6.2" height="8.30"/>
<rect x="616.4" y="156.82" width="15.6" height="8.30"/>
<rect x="604.5" y="148.52" width="5.7" height="8.30"/>
<rect x="610.2" y="148.52" width="6.3" height="8.30"/>
<rect x="616.5" y="148.52" width="13.5" height="8.30"/>
<rect x="607.0" y="140.21" width="3.2" height="8.30"/>
<rect x="610.2" y="140.21" width="3.2" height="8.30"/>
<rect x="613.4" y="140.21" width="9.6" height="8.30"/>
<rect x="607.8" y="131.91" width="2.4" height="8.30"/>
<rect x="610.2" y="131.91" width="2.4" height="8.30"/>
<rect x="612.6" y="131.91" width="7.4" height="8.30"/>
<rect x="608.0" y="123.61" width="2.2" height="8.30"/>
<rect x="610.2" y="123.61" width="2.2" height="8.30"/>
<rect x="612.4" y="123.61" width="4.3" height="8.30"/>
<rect x="609.0" y="115.31" width="1.2" height="8.30"/>
<rect x="610.2" y="115.31" width="1.2" height="8.30"/>
<rect x="611.4" y="115.31" width="3.5" height="8.30"/>
<rect x="609.6" y="107.00" width="0.6" height="8.30"/>
<rect x="610.2" y="107.00" width="0.6" height="8.30"/>
<rect x="610.8" y="107.00" width="2.2" height="8.30"/>
<rect x="609.9" y="98.70" width="0.3" height="8.30"/>
<rect x="610.2" y="98.70" width="0.3" height="8.30"/>
<rect x="610.5" y="98.70" width="1.5" height="8.30"/>
<rect x="609.0" y="90.40" width="1.2" height="8.30"/>
<rect x="610.2" y="90.40" width="1.2" height="8.30"/>
<rect x="611.4" y="90.40" width="1.9" height="8.30"/>
</g>
<g stroke="#a6a6a6" stroke-width="1.3" fill="none">
<line x1="105.5" y1="928.6" x2="1114.9" y2="928.6"/>
<line x1="106.11" y1="928.6" x2="106.11" y2="935.8"/>
<line x1="274.14" y1="928.6" x2="274.14" y2="935.8"/>
<line x1="442.17" y1="928.6" x2="442.17" y2="935.8"/>
<line x1="610.20" y1="928.6" x2="610.20" y2="935.8"/>
<line x1="778.23" y1="928.6" x2="778.23" y2="935.8"/>
<line x1="946.26" y1="928.6" x2="946.26" y2="935.8"/>
<line x1="1114.29" y1="928.6" x2="1114.29" y2="935.8"/>
</g>
<text x="566.83" y="45.10" font-size="36.60" word-spacing="-2.38" fill="#000" stroke="#000" stroke-width="0.66" textLength="97.84" lengthAdjust="spacingAndGlyphs">Russia</text>
<text x="530.18" y="79.70" font-size="18.90" word-spacing="-1.23" fill="#000" stroke="#000" stroke-width="0.34" textLength="167.48" lengthAdjust="spacingAndGlyphs">1st of January 2024</text>
<text x="884.46" y="33.00" font-size="15.00" word-spacing="-0.98" fill="#333" stroke="#333" stroke-width="0.27" textLength="305.28" lengthAdjust="spacingAndGlyphs">Source: Rosstat - Federal State Statistics Service</text>
<text x="884.68" y="51.70" font-size="15.00" word-spacing="-0.98" fill="#333" stroke="#333" stroke-width="0.27" textLength="137.45" lengthAdjust="spacingAndGlyphs">Chart by: Kaj Tallungs</text>
<text x="147.50" y="133.55" font-size="20.70" word-spacing="-1.35" fill="#595959" stroke="#595959" stroke-width="0.15" textLength="58.02" lengthAdjust="spacingAndGlyphs">Males</text>
<text x="147.56" y="171.50" font-size="20.70" word-spacing="-1.35" fill="#595959" stroke="#595959" stroke-width="0.15" textLength="120.68" lengthAdjust="spacingAndGlyphs">Male surplus</text>
<text x="147.12" y="209.45" font-size="20.70" word-spacing="-1.35" fill="#595959" stroke="#595959" stroke-width="0.15" textLength="80.40" lengthAdjust="spacingAndGlyphs">Females</text>
<text x="147.12" y="247.25" font-size="20.70" word-spacing="-1.35" fill="#595959" stroke="#595959" stroke-width="0.15" textLength="143.15" lengthAdjust="spacingAndGlyphs">Female surplus</text>
<text x="72.75" y="931.15" font-size="21.60" word-spacing="-1.40" fill="#000" stroke="#000" stroke-width="0.39" textLength="12.18" lengthAdjust="spacingAndGlyphs">0</text>
<text x="60.58" y="848.12" font-size="21.60" word-spacing="-1.40" fill="#000" stroke="#000" stroke-width="0.39" textLength="24.39" lengthAdjust="spacingAndGlyphs">10</text>
<text x="61.05" y="765.09" font-size="21.60" word-spacing="-1.40" fill="#000" stroke="#000" stroke-width="0.39" textLength="23.96" lengthAdjust="spacingAndGlyphs">20</text>
<text x="61.44" y="682.06" font-size="21.60" word-spacing="-1.40" fill="#000" stroke="#000" stroke-width="0.39" textLength="23.40" lengthAdjust="spacingAndGlyphs">30</text>
<text x="61.58" y="599.03" font-size="21.60" word-spacing="-1.40" fill="#000" stroke="#000" stroke-width="0.39" textLength="23.44" lengthAdjust="spacingAndGlyphs">40</text>
<text x="61.53" y="516.00" font-size="21.60" word-spacing="-1.40" fill="#000" stroke="#000" stroke-width="0.39" textLength="23.35" lengthAdjust="spacingAndGlyphs">50</text>
<text x="61.08" y="432.97" font-size="21.60" word-spacing="-1.40" fill="#000" stroke="#000" stroke-width="0.39" textLength="23.87" lengthAdjust="spacingAndGlyphs">60</text>
<text x="61.14" y="349.94" font-size="21.60" word-spacing="-1.40" fill="#000" stroke="#000" stroke-width="0.39" textLength="23.82" lengthAdjust="spacingAndGlyphs">70</text>
<text x="61.14" y="266.91" font-size="21.60" word-spacing="-1.40" fill="#000" stroke="#000" stroke-width="0.39" textLength="23.74" lengthAdjust="spacingAndGlyphs">80</text>
<text x="61.14" y="183.88" font-size="21.60" word-spacing="-1.40" fill="#000" stroke="#000" stroke-width="0.39" textLength="23.80" lengthAdjust="spacingAndGlyphs">90</text>
<text x="37.34" y="100.85" font-size="21.60" word-spacing="-1.40" fill="#000" stroke="#000" stroke-width="0.39" textLength="47.65" lengthAdjust="spacingAndGlyphs">100+</text>
<text x="59.02" y="964.70" font-size="21.60" word-spacing="-1.40" fill="#000" stroke="#000" stroke-width="0.39" textLength="94.04" lengthAdjust="spacingAndGlyphs">1 500 000</text>
<text x="227.46" y="964.70" font-size="21.60" word-spacing="-1.40" fill="#000" stroke="#000" stroke-width="0.39" textLength="93.50" lengthAdjust="spacingAndGlyphs">1 000 000</text>
<text x="406.05" y="964.70" font-size="21.60" word-spacing="-1.40" fill="#000" stroke="#000" stroke-width="0.39" textLength="77.02" lengthAdjust="spacingAndGlyphs">500 000</text>
<text x="603.89" y="964.70" font-size="21.60" word-spacing="-1.40" fill="#000" stroke="#000" stroke-width="0.39" textLength="12.26" lengthAdjust="spacingAndGlyphs">0</text>
<text x="742.15" y="964.70" font-size="21.60" word-spacing="-1.40" fill="#000" stroke="#000" stroke-width="0.39" textLength="76.61" lengthAdjust="spacingAndGlyphs">500 000</text>
<text x="899.87" y="964.70" font-size="21.60" word-spacing="-1.40" fill="#000" stroke="#000" stroke-width="0.39" textLength="92.65" lengthAdjust="spacingAndGlyphs">1 000 000</text>
<text x="1067.40" y="964.70" font-size="21.60" word-spacing="-1.40" fill="#000" stroke="#000" stroke-width="0.39" textLength="93.99" lengthAdjust="spacingAndGlyphs">1 500 000</text>
<text x="551.01" y="1001.80" font-size="24.00" word-spacing="-1.56" fill="#000" stroke="#000" stroke-width="0.43" textLength="117.39" lengthAdjust="spacingAndGlyphs">Population</text>
<rect x="129.8" y="121.7" width="12.4" height="12.4" fill="#accfe6"/>
<rect x="129.8" y="159.2" width="12.4" height="12.4" fill="#82a0d4"/>
<rect x="129.8" y="197.0" width="12.4" height="12.4" fill="#edd3d5"/>
<rect x="129.8" y="234.8" width="12.4" height="12.4" fill="#de7877"/>
<text transform="translate(42.0,530.0) rotate(-90)" font-size="24" fill="#000" stroke="#000" stroke-width="0.4" textLength="42.4" lengthAdjust="spacingAndGlyphs">Age</text>
</svg></body></html>
